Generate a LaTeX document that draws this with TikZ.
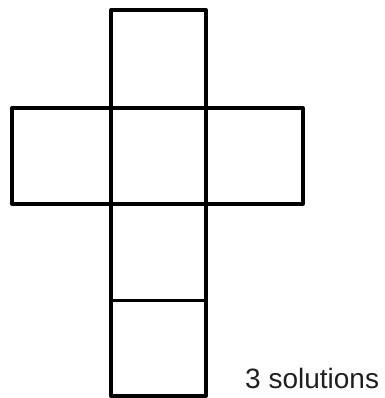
\documentclass[tikz,border=0pt]{standalone}
\usepackage{fontspec}
\setmainfont{Liberation Sans}
\begin{document}
\begin{tikzpicture}[x=1pt,y=-1pt,
  face/.style={draw=black,line width=3.3pt,line join=round},
  label/.style={anchor=base west,inner sep=0pt,font=\fontsize{28}{30}\selectfont,text=black!88}]
\useasboundingbox (0,0) rectangle (384,398);
\draw[face] (111,10) rectangle (206,108);
\draw[face] (12,108) rectangle (303,204);
\draw[face] (111,108) -- (111,204);
\draw[face] (206,108) -- (206,204);
\draw[face] (111,204) rectangle (206,396);
\draw[face,line width=3pt] (111,300.5) -- (206,300.5);
\node[label] (t) at (245,388) {3 solutions};
\end{tikzpicture}
\end{document}
